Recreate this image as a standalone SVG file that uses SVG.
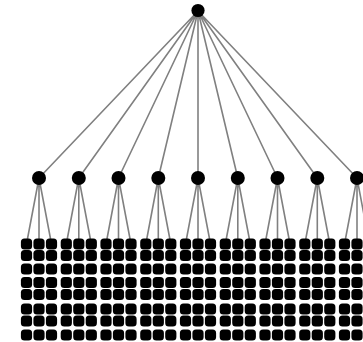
<svg xmlns="http://www.w3.org/2000/svg" xmlns:xlink="http://www.w3.org/1999/xlink" width="363" height="342" viewBox="0 0 363 342">
<style>
.edge{stroke:#808080;stroke-width:1.6;fill:none}
.node{fill:#000}
</style>
<defs>
<rect id="leaf" x="-5.6" y="-5.6" width="11.2" height="11.2" rx="3.6" class="node"/>
<g id="col">
<use href="#leaf" y="244"/><use href="#leaf" y="255.5"/><use href="#leaf" y="269"/><use href="#leaf" y="282.5"/>
<use href="#leaf" y="294.5"/><use href="#leaf" y="309"/><use href="#leaf" y="321"/><use href="#leaf" y="335"/>
</g>
</defs>
<rect width="363" height="342" fill="#fff"/>
<g id="connectors">
<path class="edge" d="M198 11L39 178M198 11L78.8 178M198 11L118.5 178M198 11L158.3 178M198 11L198 178M198 11L237.8 178M198 11L277.5 178M198 11L317.3 178M198 11L357 178"/>
<path class="edge" d="M39 178L26.5 244M39 178L39 244M39 178L51.5 244
M78.8 178L66.3 244M78.8 178L78.8 244M78.8 178L91.3 244
M118.5 178L106 244M118.5 178L118.5 244M118.5 178L131 244
M158.3 178L145.8 244M158.3 178L158.3 244M158.3 178L170.8 244
M198 178L185.5 244M198 178L198 244M198 178L210.5 244
M237.8 178L225.3 244M237.8 178L237.8 244M237.8 178L250.3 244
M277.5 178L265 244M277.5 178L277.5 244M277.5 178L290 244
M317.3 178L304.8 244M317.3 178L317.3 244M317.3 178L329.8 244
M357 178L344.5 244M357 178L357 244M357 178L369.5 244"/>
</g>
<g id="root"><circle class="node" cx="198" cy="10.5" r="6.6"/></g>
<g id="m0"><circle class="node" cx="39" cy="178" r="7"/></g>
<g id="m1"><circle class="node" cx="78.8" cy="178" r="7"/></g>
<g id="m2"><circle class="node" cx="118.5" cy="178" r="7"/></g>
<g id="m3"><circle class="node" cx="158.3" cy="178" r="7"/></g>
<g id="m4"><circle class="node" cx="198" cy="178" r="7"/></g>
<g id="m5"><circle class="node" cx="237.8" cy="178" r="7"/></g>
<g id="m6"><circle class="node" cx="277.5" cy="178" r="7"/></g>
<g id="m7"><circle class="node" cx="317.3" cy="178" r="7"/></g>
<g id="m8"><circle class="node" cx="357" cy="178" r="7"/></g>
<g id="leaves0"><use href="#col" x="26.5"/><use href="#col" x="39"/><use href="#col" x="51.5"/></g>
<g id="leaves1"><use href="#col" x="66.3"/><use href="#col" x="78.8"/><use href="#col" x="91.3"/></g>
<g id="leaves2"><use href="#col" x="106"/><use href="#col" x="118.5"/><use href="#col" x="131"/></g>
<g id="leaves3"><use href="#col" x="145.8"/><use href="#col" x="158.3"/><use href="#col" x="170.8"/></g>
<g id="leaves4"><use href="#col" x="185.5"/><use href="#col" x="198"/><use href="#col" x="210.5"/></g>
<g id="leaves5"><use href="#col" x="225.3"/><use href="#col" x="237.8"/><use href="#col" x="250.3"/></g>
<g id="leaves6"><use href="#col" x="265"/><use href="#col" x="277.5"/><use href="#col" x="290"/></g>
<g id="leaves7"><use href="#col" x="304.8"/><use href="#col" x="317.3"/><use href="#col" x="329.8"/></g>
<g id="leaves8"><use href="#col" x="344.5"/><use href="#col" x="357"/><use href="#col" x="369.5"/></g>
</svg>
